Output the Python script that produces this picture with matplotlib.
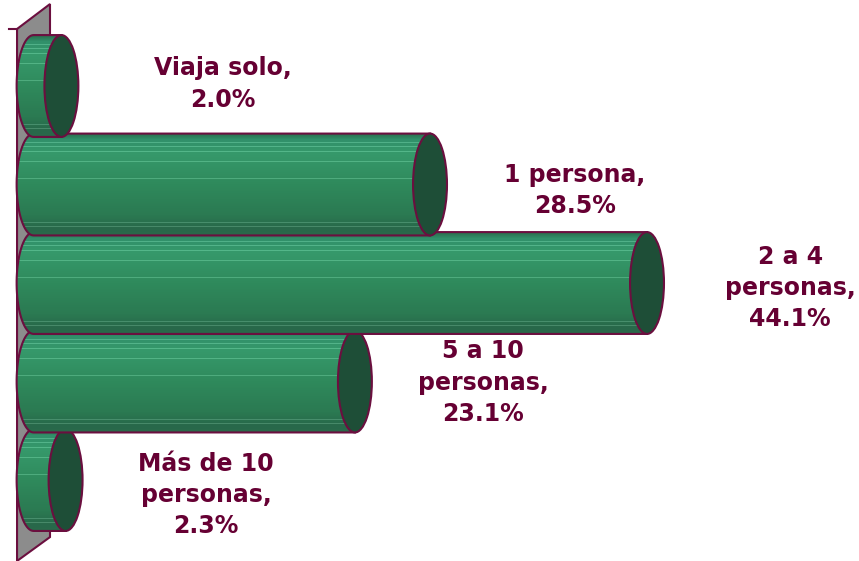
import matplotlib
matplotlib.use('agg')
import numpy as np
import matplotlib.pyplot as plt
from matplotlib.patches import Ellipse, Polygon, PathPatch
from matplotlib.path import Path
from matplotlib.colors import to_rgb

# data
categories = ['Viaja solo', '1 persona', '2 a 4\npersonas', '5 a 10\npersonas', 'Más de 10\npersonas']
values = [2.0, 28.5, 44.1, 23.1, 2.3]

# label placement (offset from bar end, in % and in bar rows)
label_dx = [11.6, 10.4, 10.3, 9.2, 10.1]
label_dy = [-0.02, 0.06, 0.05, 0.01, 0.15]

edge = '#6b0f3f'
cap_col = '#1e4e37'
txt_col = '#660033'

fig = plt.figure(figsize=(8.59, 5.61), dpi=100)
ax = fig.add_axes([0, 0, 1, 1])
ax.set_axis_off()

hh = 0.517   # half height of a cylinder (rows)
a = 1.22     # half width of end ellipse (%)

# vertical shading of the cylinder body
stops = [(0.0, '#2a6c4c'), (0.06, '#31906a'), (0.2, '#36996b'),
         (0.5, '#2f8a5c'), (0.8, '#2b7a52'), (0.94, '#28684a'), (1.0, '#2a6a4a')]
n = 100
t = np.linspace(0, 1, n)
grad = np.zeros((n, 1, 3))
for c in range(3):
    grad[:, 0, c] = np.interp(t, [s[0] for s in stops], [to_rgb(s[1])[c] for s in stops])
for s in [0.1, 0.14, 0.19, 0.28, 0.45, 0.88, 0.92]:
    k = int(s * (n - 1))
    grad[k, 0, :] = np.minimum(grad[k, 0, :] + 0.12, 1)

# back wall
wall = Polygon([(-1.19, -0.579), (1.18, -0.832), (1.18, 4.579), (-1.19, 4.822)],
               closed=True, facecolor='#8c8c8c', edgecolor=edge, lw=1.5, zorder=1)
ax.add_patch(wall)
ax.plot([-1.77, -1.19], [-0.579, -0.579], color=edge, lw=1.5, zorder=1)

for i, (cat, v) in enumerate(zip(categories, values)):
    yc = i
    z = 20 - 3 * i
    th = np.linspace(np.pi / 2, 3 * np.pi / 2, 40)
    verts = list(zip(a * np.cos(th), yc - hh * np.sin(th)))
    verts += [(v, yc + hh), (v, yc - hh), verts[0]]
    codes = [Path.MOVETO] + [Path.LINETO] * (len(verts) - 2) + [Path.CLOSEPOLY]
    body = PathPatch(Path(verts, codes), facecolor='none', edgecolor=edge, lw=1.5, zorder=z + 1)
    ax.add_patch(body)
    im = ax.imshow(grad, extent=[-a, v, yc + hh, yc - hh], aspect='auto',
                   interpolation='nearest', zorder=z)
    im.set_clip_path(body)
    cap = Ellipse((v, yc), 2 * a, 2 * hh, facecolor=cap_col, edgecolor=edge, lw=1.5, zorder=z + 2)
    ax.add_patch(cap)
    ax.text(v + label_dx[i], yc + label_dy[i], f'{cat},\n{v:.1f}%', ha='center', va='center',
            multialignment='center', fontsize=17, fontweight='bold', color=txt_col,
            family='DejaVu Sans', linespacing=1.38, zorder=30)

ax.set_xlim(-2.415, 59.34)
ax.set_ylim(4.822, -0.873)

fig.savefig('out.png', dpi=100)
